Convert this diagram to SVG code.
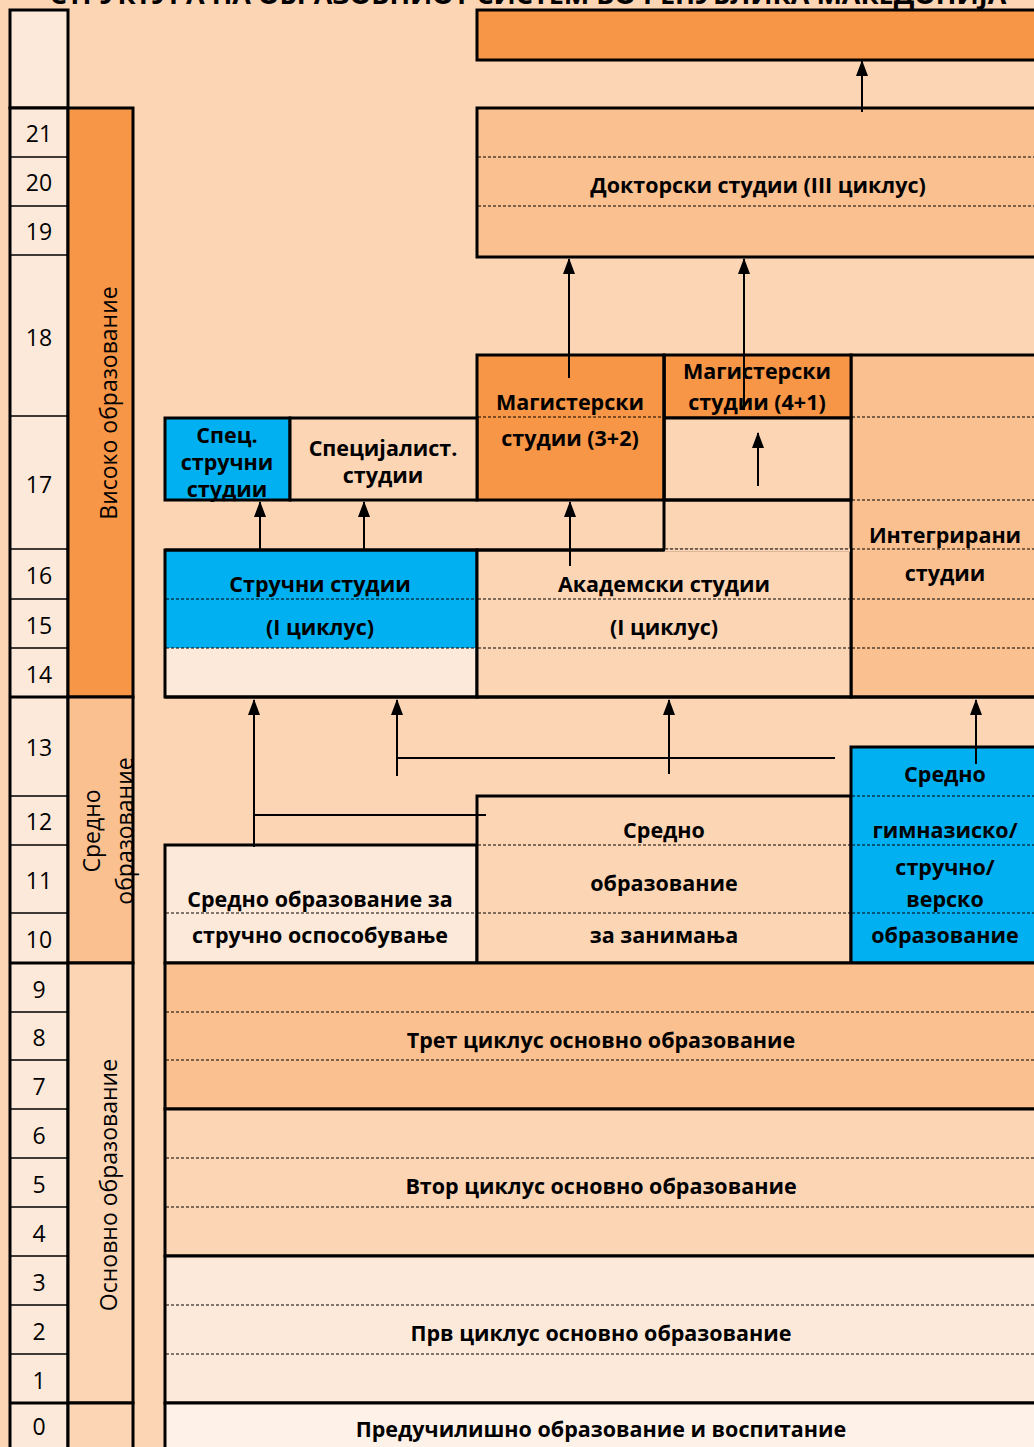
<svg xmlns="http://www.w3.org/2000/svg" width="1034" height="1447" viewBox="0 0 1034 1447">
<defs>
<style>
.t{font-family:"Open Sans","Noto Sans","DejaVu Sans",sans-serif;font-weight:bold;font-size:21.5px;text-anchor:middle;dominant-baseline:central;fill:#000}
.n{font-family:"Open Sans","Noto Sans","DejaVu Sans",sans-serif;font-size:23px;text-anchor:middle;dominant-baseline:central;fill:#000}
.r{font-family:"Open Sans","Noto Sans","DejaVu Sans",sans-serif;font-size:23px;text-anchor:middle;dominant-baseline:central;fill:#000}
.box{stroke:#000;stroke-width:3}
.thin{stroke:#000;stroke-width:1.5;fill:none}
.thick{stroke:#000;stroke-width:3;fill:none}
.dash{stroke:#000;stroke-width:1;stroke-dasharray:3 2;fill:none}
.conn{stroke:#000;stroke-width:2;fill:none}
</style>
<marker id="ah" viewBox="0 0 16 12" refX="15" refY="6" markerWidth="16" markerHeight="12" markerUnits="userSpaceOnUse" orient="auto">
<path d="M0,0 L16,6 L0,12 z" fill="#000"/>
</marker>
</defs>
<rect x="0" y="0" width="1034" height="1447" fill="#FCD5B4"/>
<text x="528" y="4" style="font-family:'Open Sans','Noto Sans',sans-serif;font-weight:bold;font-size:27px;text-anchor:middle">СТРУКТУРА НА ОБРАЗОВНИОТ СИСТЕМ ВО РЕПУБЛИКА МАКЕДОНИЈА</text>

<g id="age-column">
<rect x="10" y="10" width="58" height="98" fill="#FDE9D9" class="box"/>
<rect x="10" y="108" width="58" height="1345" fill="#FDE9D9" class="box"/>
<path class="thin" d="M10 157H68M10 206H68M10 255H68M10 416H68M10 549H68M10 599H68M10 648H68M10 796H68M10 845H68M10 913H68M10 1012H68M10 1060H68M10 1109H68M10 1158H68M10 1207H68M10 1256H68M10 1305H68M10 1354H68"/>
<path class="thick" d="M10 697H68M10 963H68M10 1403H68"/>
<text class="n" x="39" y="133">21</text>
<text class="n" x="39" y="182">20</text>
<text class="n" x="39" y="231">19</text>
<text class="n" x="39" y="337">18</text>
<text class="n" x="39" y="484">17</text>
<text class="n" x="39" y="575">16</text>
<text class="n" x="39" y="625">15</text>
<text class="n" x="39" y="674">14</text>
<text class="n" x="39" y="747">13</text>
<text class="n" x="39" y="821">12</text>
<text class="n" x="39" y="880">11</text>
<text class="n" x="39" y="939">10</text>
<text class="n" x="39" y="989">9</text>
<text class="n" x="39" y="1037">8</text>
<text class="n" x="39" y="1086">7</text>
<text class="n" x="39" y="1135">6</text>
<text class="n" x="39" y="1184">5</text>
<text class="n" x="39" y="1233">4</text>
<text class="n" x="39" y="1282">3</text>
<text class="n" x="39" y="1331">2</text>
<text class="n" x="39" y="1380">1</text>
<text class="n" x="39" y="1426">0</text>
</g>

<g id="level-high">
<rect x="68" y="108" width="65" height="589" fill="#F79646" class="box"/>
<text class="r" transform="translate(108,403) rotate(-90)">Високо образование</text>
</g>
<g id="level-secondary">
<rect x="68" y="697" width="65" height="266" fill="#FAC090" class="box"/>
<text class="r" transform="translate(91,831) rotate(-90)">Средно</text>
<text class="r" transform="translate(124,831) rotate(-90)">образование</text>
</g>
<g id="level-primary">
<rect x="68" y="963" width="65" height="440" fill="#FCD5B4" class="box"/>
<text class="r" transform="translate(108,1185) rotate(-90)">Основно образование</text>
</g>
<g id="level-preschool">
<rect x="68" y="1403" width="65" height="50" fill="#FCD5B4" class="box"/>
</g>

<g id="top-box">
<rect x="477" y="10" width="570" height="50" fill="#F79646" class="box"/>
</g>

<g id="doctoral">
<rect x="477" y="108" width="570" height="149" fill="#FAC090" class="box"/>
<path class="dash" d="M478 157H1034M478 206H1034"/>
<text class="t" x="758" y="184">Докторски студии (III циклус)</text>
</g>

<g id="integrated">
<rect x="851" y="355" width="196" height="342" fill="#FAC090" class="box"/>
<path class="dash" d="M852 417H1034M852 500H1034M852 549H1034M852 599H1034M852 648H1034"/>
<text class="t" x="945" y="534">Интегрирани</text>
<text class="t" x="945" y="572">студии</text>
</g>

<g id="masters-41">
<rect x="664" y="355" width="187" height="63" fill="#F79646" class="box"/>
<rect x="664" y="418" width="187" height="82" fill="#FCD5B4" class="box"/>
<text class="t" x="757" y="370">Магистерски</text>
<text class="t" x="757" y="401">студии (4+1)</text>
</g>

<g id="masters-32">
<rect x="477" y="355" width="187" height="145" fill="#F79646" class="box"/>
<path class="dash" d="M478 417H663"/>
<text class="t" x="570" y="401">Магистерски</text>
<text class="t" x="570" y="437">студии (3+2)</text>
</g>

<g id="spec-professional">
<rect x="165" y="418" width="125" height="82" fill="#00B0F0" class="box"/>
<text class="t" x="227" y="434">Спец.</text>
<text class="t" x="227" y="461">стручни</text>
<text class="t" x="227" y="488">студии</text>
</g>

<g id="specialist">
<rect x="290" y="418" width="187" height="82" fill="#FCD5B4" class="box"/>
<text class="t" x="383" y="447">Специјалист.</text>
<text class="t" x="383" y="474">студии</text>
</g>

<g id="bridge">
<path class="thick" d="M664 550V355M664 500H851"/>
</g>

<g id="professional-studies">
<rect x="165" y="550" width="312" height="98" fill="#00B0F0"/>
<rect x="165" y="648" width="312" height="49" fill="#FDE9D9"/>
<rect x="165" y="550" width="312" height="147" fill="none" class="box"/>
<path class="dash" d="M166 599H476M166 648H476"/>
<text class="t" x="320" y="583">Стручни студии</text>
<text class="t" x="320" y="626">(I циклус)</text>
</g>

<g id="academic-studies">
<rect x="477" y="550" width="374" height="147" fill="#FCD5B4" class="box"/>
<path class="dash" d="M478 599H850M478 648H850"/>
<text class="t" x="664" y="583">Академски студии</text>
<text class="t" x="664" y="626">(I циклус)</text>
</g>
<path class="thick" d="M165 550H664"/>
<path d="M665 550H850" stroke="#FCD5B4" stroke-width="3.5"/>
<path class="dash" d="M665 549H851"/>
<path class="thick" d="M165 697H1034"/>

<g id="secondary-vocational-training">
<rect x="165" y="845" width="312" height="118" fill="#FDE9D9" class="box"/>
<path class="dash" d="M166 913H476"/>
<text class="t" x="320" y="898">Средно образование за</text>
<text class="t" x="320" y="934">стручно оспособување</text>
</g>

<g id="secondary-occupations">
<rect x="477" y="796" width="374" height="167" fill="#FCD5B4" class="box"/>
<path class="dash" d="M478 845H850M478 913H850"/>
<text class="t" x="664" y="829">Средно</text>
<text class="t" x="664" y="882">образование</text>
<text class="t" x="664" y="934">за занимања</text>
</g>

<g id="secondary-general">
<rect x="851" y="747" width="196" height="216" fill="#00B0F0" class="box"/>
<path class="dash" d="M852 796H1034M852 845H1034M852 913H1034"/>
<text class="t" x="945" y="773">Средно</text>
<text class="t" x="945" y="829">гимназиско/</text>
<text class="t" x="945" y="866">стручно/</text>
<text class="t" x="945" y="898">верско</text>
<text class="t" x="945" y="934">образование</text>
</g>

<g id="primary-third">
<rect x="165" y="963" width="882" height="146" fill="#FAC090" class="box"/>
<path class="dash" d="M166 1012H1034M166 1060H1034"/>
<text class="t" x="601" y="1039">Трет циклус основно образование</text>
</g>

<g id="primary-second">
<rect x="165" y="1109" width="882" height="147" fill="#FCD5B4" class="box"/>
<path class="dash" d="M166 1158H1034M166 1207H1034"/>
<text class="t" x="601" y="1185">Втор циклус основно образование</text>
</g>

<g id="primary-first">
<rect x="165" y="1256" width="882" height="147" fill="#FDE9D9" class="box"/>
<path class="dash" d="M166 1305H1034M166 1354H1034"/>
<text class="t" x="601" y="1332">Прв циклус основно образование</text>
</g>

<g id="preschool">
<rect x="165" y="1403" width="882" height="60" fill="#FEF2E8" class="box"/>
<text class="t" x="601" y="1428">Предучилишно образование и воспитание</text>
</g>

<g id="connectors">
<path class="conn" d="M862 112V61" marker-end="url(#ah)"/>
<path class="conn" d="M569 378V259" marker-end="url(#ah)"/>
<path class="conn" d="M744 410V259" marker-end="url(#ah)"/>
<path class="conn" d="M758 486V433" marker-end="url(#ah)"/>
<path class="conn" d="M260 550V502" marker-end="url(#ah)"/>
<path class="conn" d="M364 550V502" marker-end="url(#ah)"/>
<path class="conn" d="M570 566V502" marker-end="url(#ah)"/>
<path class="conn" d="M254 847V700" marker-end="url(#ah)"/>
<path class="conn" d="M254 815H486"/>
<path class="conn" d="M397 776V700" marker-end="url(#ah)"/>
<path class="conn" d="M397 758H835"/>
<path class="conn" d="M669 774V700" marker-end="url(#ah)"/>
<path class="conn" d="M976 764V700" marker-end="url(#ah)"/>
</g>
</svg>
